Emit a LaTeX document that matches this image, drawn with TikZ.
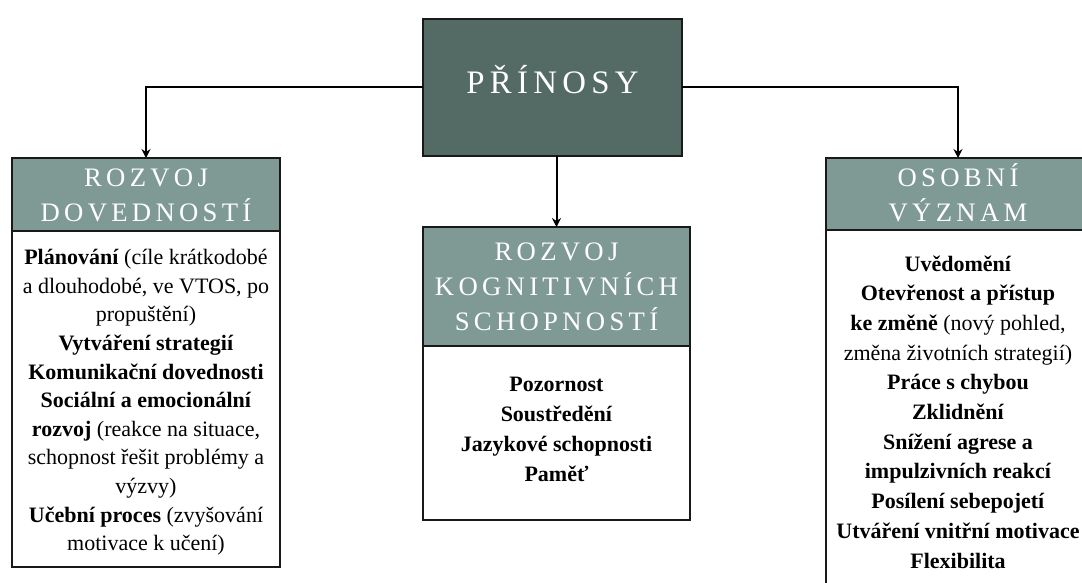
\documentclass[tikz,border=0pt]{standalone}
\usepackage{fontspec}
\setmainfont{Liberation Serif}
\usetikzlibrary{arrows.meta}
\definecolor{topfill}{RGB}{83,106,101}
\definecolor{headfill}{RGB}{127,154,149}
\makeatletter
\newcommand\lsp[2]{\@tfor\lsp@c:=#2\do{\lsp@c\kern#1}\kern-#1}
\makeatother
\begin{document}
\begin{tikzpicture}[x=1pt,y=-1pt,
  box/.style={draw=black!90,line width=1.4pt,inner sep=0pt,outer sep=0pt,rectangle},
  topbox/.style={box,fill=topfill,minimum width=259pt,minimum height=137pt},
  headbox/.style={box,fill=headfill},
  bodybox/.style={box,fill=white},
  toptext/.style={text=white,font=\fontsize{32.8}{40}\selectfont,anchor=base,inner sep=0pt},
  headtext/.style={text=white,font=\fontsize{26.7}{35}\selectfont,align=center,anchor=base,inner sep=0pt},
  bodytext/.style={text=black,align=center,anchor=base,inner sep=0pt},
  conn/.style={draw=black,line width=2pt,-{Stealth[length=9pt,width=9pt]}}]
\useasboundingbox (0,0) rectangle (1082,583);
\clip (0,0) rectangle (1082,583);
\fill[white] (0,0) rectangle (1082,583);
% boxes
\node[topbox] (top) at (552.5,87.5) {};
\node[headbox,minimum width=268pt,minimum height=73pt] (lhead) at (146,194.5) {};
\node[bodybox,minimum width=268pt,minimum height=336pt] (lbody) at (146,399) {};
\node[headbox,minimum width=267pt,minimum height=119pt] (mhead) at (556.5,286.5) {};
\node[bodybox,minimum width=267pt,minimum height=174pt] (mbody) at (556.5,433) {};
\node[headbox,minimum width=264pt,minimum height=72pt] (rhead) at (958,194) {};
\node[bodybox,minimum width=264pt,minimum height=390pt] (rbody) at (958,425) {};
% texts (anchor base = baseline of the last line)
\node[toptext] (toplabel) at (552.5,94) {\lsp{5.3pt}{PŘÍNOSY}};
\node[headtext] (lheadlabel) at (146,221) {\lsp{4.3pt}{ROZVOJ}\\\lsp{4.3pt}{DOVEDNOSTÍ}};
\node[headtext] (mheadlabel) at (556.5,330) {\lsp{4.3pt}{ROZVOJ}\\\lsp{4.3pt}{KOGNITIVNÍCH}\\\lsp{4.3pt}{SCHOPNOSTÍ}};
\node[headtext] (rheadlabel) at (958,221.5) {\lsp{4.3pt}{OSOBNÍ}\\\lsp{4.3pt}{VÝZNAM}};
\node[bodytext,font=\fontsize{22}{28.6}\selectfont] (lbodylabel) at (146,550.6) {%
\textbf{Plánování} (cíle krátkodobé\\
a dlouhodobé, ve VTOS, po\\
propuštění)\\
\textbf{Vytváření strategií}\\
\textbf{Komunikační dovednosti}\\
\textbf{Sociální a emocionální}\\
\textbf{rozvoj} (reakce na situace,\\
schopnost řešit problémy a\\
výzvy)\\
\textbf{Učební proces} (zvyšování\\
motivace k učení)};
\node[bodytext,font=\fontsize{22}{29.7}\selectfont] (mbodylabel) at (556.5,481) {%
\textbf{Pozornost}\\
\textbf{Soustředění}\\
\textbf{Jazykové schopnosti}\\
\textbf{Paměť}};
\node[bodytext,font=\fontsize{22}{29.7}\selectfont] (rbodylabel) at (958,568) {%
\textbf{Uvědomění}\\
\textbf{Otevřenost a přístup}\\
\textbf{ke změně} (nový pohled,\\
změna životních strategií)\\
\textbf{Práce s chybou}\\
\textbf{Zklidnění}\\
\textbf{Snížení agrese a}\\
\textbf{impulzivních reakcí}\\
\textbf{Posílení sebepojetí}\\
\textbf{Utváření vnitřní motivace}\\
\textbf{Flexibilita}};
% connectors
\draw[conn] (top.west) -| (lhead.north);
\draw[conn] (top.east) -| (rhead.north);
\draw[conn] (mhead.north |- top.south) -- (mhead.north);
\end{tikzpicture}
\end{document}
